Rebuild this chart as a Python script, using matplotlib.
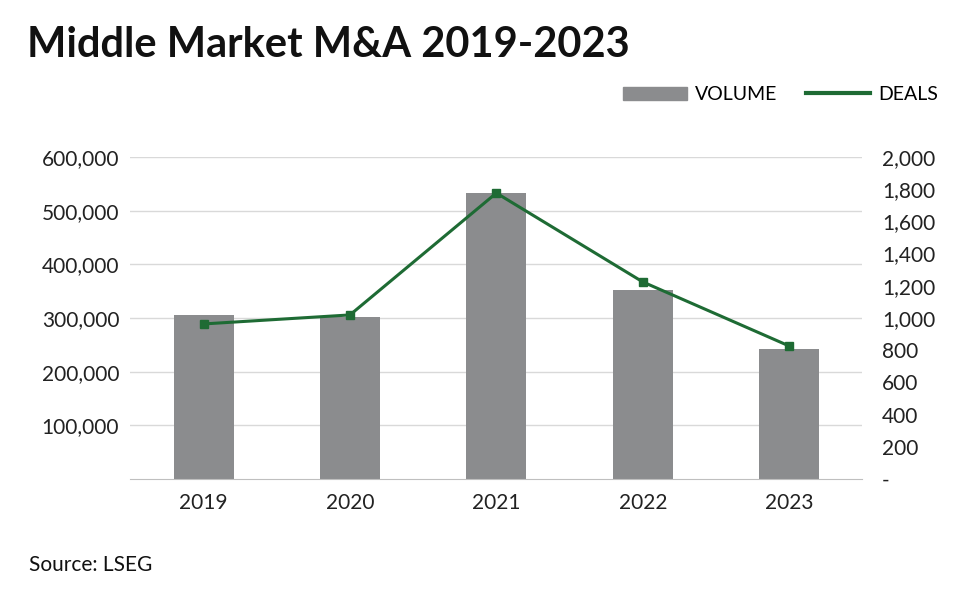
import matplotlib
matplotlib.use("Agg")
import matplotlib.pyplot as plt
from matplotlib.lines import Line2D
from matplotlib.patches import Patch
from matplotlib.ticker import FuncFormatter

years = ["2019", "2020", "2021", "2022", "2023"]
volume = [305000, 302000, 533000, 353000, 243000]
deals = [963, 1019, 1776, 1224, 826]

plt.rcParams["font.family"] = ["Lato", "DejaVu Sans"]

fig = plt.figure(figsize=(9.8, 5.98), dpi=100)
ax = fig.add_axes([0.133, 0.199, 0.747, 0.5385])
x = range(len(years))
ax.bar(x, volume, width=0.41, color="#8b8c8e", zorder=2)
ax.set_xlim(-0.5, 4.5)
ax.set_ylim(0, 600000)
ax.set_yticks(range(100000, 600001, 100000))
ax.yaxis.set_major_formatter(FuncFormatter(lambda v, p: f"{int(v):,}"))
ax.grid(axis="y", color="#d9d9d9", lw=1, zorder=0)
for s in ["top", "right", "left"]:
    ax.spines[s].set_visible(False)
ax.spines["bottom"].set_color("#bfbfbf")
ax.set_xticks(list(x))
ax.set_xticklabels(years)
ax.tick_params(length=0, labelsize=15, colors="#222222")
ax.tick_params(axis="x", pad=10)
ax.tick_params(axis="y", pad=8)

ax2 = ax.twinx()
ax2.plot(x, deals, color="#1e6b34", lw=2.2, marker="s", ms=6)
ax2.set_ylim(0, 2000)
ax2.set_yticks(range(0, 2001, 200))
ax2.yaxis.set_major_formatter(FuncFormatter(lambda v, p: "-" if v == 0 else f"{int(v):,}"))
for s in ax2.spines.values():
    s.set_visible(False)
ax2.tick_params(length=0, labelsize=15, colors="#222222", pad=14)

handles = [Patch(color="#8b8c8e"), Line2D([], [], color="#1e6b34", lw=3)]
fig.legend(handles, ["VOLUME", "DEALS"], loc="upper right", bbox_to_anchor=(0.975, 0.885),
           ncol=2, frameon=False, fontsize=14, handlelength=3.3, columnspacing=1.5,
           handletextpad=0.4)

fig.text(0.028, 0.925, "Middle Market M&A 2019-2023", fontsize=30, fontweight="bold",
         va="center", color="#111111")
fig.text(0.03, 0.055, "Source: LSEG", fontsize=15, va="center", color="#111111")
fig.savefig("out.png", dpi=100)
